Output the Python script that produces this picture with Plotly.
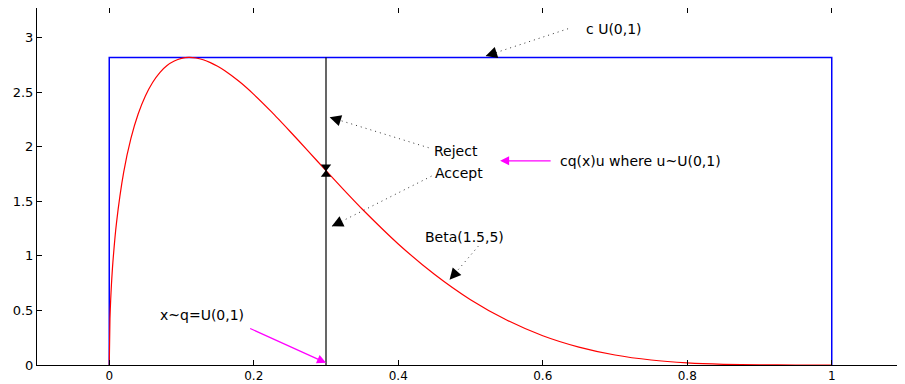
import plotly.graph_objects as go

# Beta(1.5,5) density, values
beta_x = [0, 0.001, 0.002, 0.003, 0.005, 0.01, 0.02, 0.03, 0.04, 0.05, 0.06, 0.07, 0.08, 0.09,
          0.10, 0.11, 0.12, 0.13, 0.14, 0.15, 0.16, 0.18, 0.20, 0.225, 0.25, 0.275, 0.30, 0.325,
          0.35, 0.40, 0.45, 0.50, 0.55, 0.60, 0.65, 0.70, 0.75, 0.80, 0.85, 0.90, 0.95, 1.0]
beta_y = [0, 0.426, 0.600, 0.733, 0.938, 1.300, 1.766, 2.075, 2.299, 2.465, 2.588, 2.679, 2.743, 2.784,
          2.808, 2.817, 2.812, 2.796, 2.770, 2.736, 2.695, 2.596, 2.479, 2.316, 2.141, 1.962, 1.780, 1.602,
          1.429, 1.109, 0.831, 0.598, 0.412, 0.268, 0.164, 0.0917, 0.0458, 0.0194, 0.0063, 0.0013, 0.0001, 0]

c_const = 2.817          # envelope height c
x_sample = 0.3           # the sampled x
f_at_sample = 1.780      # density at the sample

x_ticks = [0, 0.2, 0.4, 0.6, 0.8, 1]
x_tick_labels = ["0", "0.2", "0.4", "0.6", "0.8", "1"]
y_ticks = [0, 0.5, 1, 1.5, 2, 2.5, 3]
y_tick_labels = ["0", "0.5", "1", "1.5", "2", "2.5", "3"]

FONT = "DejaVu Sans, Liberation Sans, Arial, sans-serif"

fig = go.Figure()

# envelope c*U(0,1)
fig.add_trace(go.Scatter(x=[0, 0, 1, 1], y=[0, c_const, c_const, 0], mode="lines",
                         line=dict(color="#0000ff", width=1.5), hoverinfo="skip"))
# beta density
fig.add_trace(go.Scatter(x=beta_x, y=beta_y, mode="lines",
                         line=dict(color="#ff0000", width=1.2, shape="spline", smoothing=0.6),
                         hoverinfo="skip"))
# vertical line at the sample
fig.add_trace(go.Scatter(x=[x_sample, x_sample], y=[0, c_const], mode="lines",
                         line=dict(color="#000000", width=1.2), hoverinfo="skip"))
# triangles at the accept/reject point
fig.add_trace(go.Scatter(x=[x_sample, x_sample], y=[f_at_sample + 0.035, f_at_sample - 0.035],
                         mode="markers",
                         marker=dict(symbol=["triangle-down", "triangle-up"], size=9, color="black",
                                     line=dict(width=0)),
                         hoverinfo="skip"))

# dotted arrows: (tail_x, tail_y, head_x, head_y, pixel dir from head to tail)
dotted = [
    (0.635, 3.08, 0.521, 2.83, (6.7, -2.2)),
    (0.442, 1.99, 0.305, 2.27, (6.7, 2.1)),
    (0.446, 1.73, 0.308, 1.27, (6.3, -3.1)),
    (0.511, 1.09, 0.471, 0.78, (4.6, -5.3)),
]
annotations = []
for tx, ty, hx, hy, d in dotted:
    fig.add_trace(go.Scatter(x=[tx, hx], y=[ty, hy], mode="lines",
                             line=dict(color="#333333", width=1, dash="1px,4px"), hoverinfo="skip"))
    annotations.append(dict(x=hx, y=hy, xref="x", yref="y", ax=d[0] * 1.4, ay=d[1] * 1.4,
                            showarrow=True, arrowhead=2, arrowsize=1.9, arrowwidth=1.2,
                            arrowcolor="black", text=""))

# magenta arrows
annotations.append(dict(x=0.541, y=1.87, ax=0.613, ay=1.87, xref="x", yref="y", axref="x", ayref="y",
                        showarrow=True, arrowhead=2, arrowsize=1.5, arrowwidth=1.2,
                        arrowcolor="#ff00ff", text=""))
annotations.append(dict(x=0.300, y=0.02, ax=0.193, ay=0.34, xref="x", yref="y", axref="x", ayref="y",
                        showarrow=True, arrowhead=2, arrowsize=1.5, arrowwidth=1.2,
                        arrowcolor="#ff00ff", text=""))

# text labels
labels = [
    ("c U(0,1)", 0.657, 3.08),
    ("Reject", 0.447, 1.96),
    ("Accept", 0.448, 1.76),
    ("cq(x)u where u~U(0,1)", 0.621, 1.87),
    ("Beta(1.5,5)", 0.434, 1.17),
    ("x~q=U(0,1)", 0.067, 0.46),
]
for t, x, y in labels:
    annotations.append(dict(x=x, y=y, xref="x", yref="y", text=t, showarrow=False,
                            xanchor="left", yanchor="middle",
                            font=dict(family=FONT, size=14, color="black")))

# the page body adds an 8px margin, so the figure is sized to fit the window after it
fig.update_layout(
    width=897, height=376,
    margin=dict(l=29, r=1, t=0, b=19),
    paper_bgcolor="white", plot_bgcolor="white",
    showlegend=False,
    annotations=annotations,
    font=dict(family=FONT, size=13, color="black"),
)
fig.update_xaxes(range=[-0.1, 1.1], tickvals=x_ticks, ticktext=x_tick_labels,
                 ticks="inside", ticklen=5, tickcolor="black", showgrid=False, zeroline=False,
                 showline=True, linecolor="black", linewidth=1, mirror="ticks",
                 tickfont=dict(family=FONT, size=12, color="black"), automargin=False)
fig.update_yaxes(range=[0, 3.27], tickvals=y_ticks, ticktext=y_tick_labels,
                 ticks="inside", ticklen=5, tickcolor="black", showgrid=False, zeroline=False,
                 showline=True, linecolor="black", linewidth=1, mirror="ticks",
                 tickfont=dict(family=FONT, size=13, color="black"), automargin=False)

fig.write_html("out.html")
